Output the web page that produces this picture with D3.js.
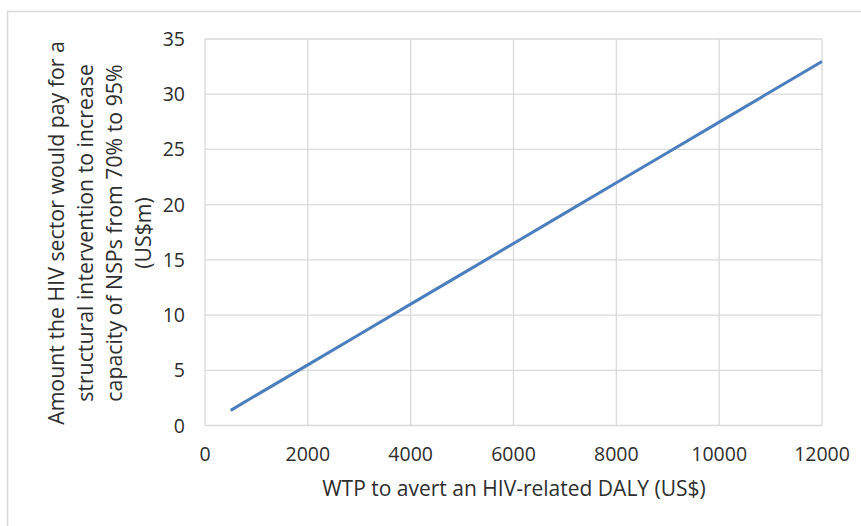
<!DOCTYPE html>
<html><head><meta charset="utf-8">
<script src="https://cdn.jsdelivr.net/npm/d3@7"></script>
<style>body{margin:0;background:#fff;} text{font-family:"Open Sans",sans-serif;fill:#2e2e2e;}</style>
</head><body>
<svg id="c" width="861" height="526"></svg>
<script>
const wtp = [500, 1000, 2000, 3000, 4000, 5000, 6000, 7000, 8000, 9000, 10000, 11000, 12000];
const amount = [1.37, 2.75, 5.49, 8.24, 10.99, 13.73, 16.48, 19.23, 21.98, 24.72, 27.47, 30.22, 32.97];
const xTicks = [0, 2000, 4000, 6000, 8000, 10000, 12000];
const yTicks = [0, 5, 10, 15, 20, 25, 30, 35];
const xTitle = "WTP to avert an HIV-related DALY (US$)";
const yTitle = ["Amount the HIV sector would pay for a", "structural intervention to increase", "capacity of NSPs from 70% to 95%", "(US$m)"];

const svg = d3.select("#c");
const L = 205, R = 822, T = 39, B = 425.5;
const x = d3.scaleLinear().domain([0, 12000]).range([L, R]);
const y = d3.scaleLinear().domain([0, 35]).range([B, T]);

// outer frame
svg.append("path").attr("d", "M7.5,526 V11.5 H861").attr("fill", "none").attr("stroke", "#d9d9d9").attr("stroke-width", 1.5);

// gridlines
svg.append("g").selectAll("line").data(yTicks).join("line")
  .attr("x1", L).attr("x2", R).attr("y1", d => y(d)).attr("y2", d => y(d))
  .attr("stroke", "#d9d9d9").attr("stroke-width", 1.3);
svg.append("g").selectAll("line").data(xTicks).join("line")
  .attr("y1", T).attr("y2", B).attr("x1", d => x(d)).attr("x2", d => x(d))
  .attr("stroke", "#d9d9d9").attr("stroke-width", 1.3);

// tick labels
svg.append("g").selectAll("text").data(yTicks).join("text")
  .attr("x", L - 20).attr("y", d => y(d)).attr("dy", "0.36em")
  .attr("text-anchor", "end").attr("font-size", 19.5).text(d => d);
svg.append("g").selectAll("text").data(xTicks).join("text")
  .attr("x", d => x(d)).attr("y", 461)
  .attr("text-anchor", "middle").attr("font-size", 19.5).text(d => d);

// line
svg.append("path").datum(wtp.map((d, i) => [d, amount[i]]))
  .attr("d", d3.line().x(d => x(d[0])).y(d => y(d[1])))
  .attr("fill", "none").attr("stroke", "#4a7ebf").attr("stroke-width", 3);

// titles
svg.append("text").attr("x", 514).attr("y", 496).attr("text-anchor", "middle")
  .attr("font-size", 21).text(xTitle);
const yc = 233;
svg.append("g").selectAll("text").data(yTitle).join("text")
  .attr("transform", (d, i) => `translate(${63.5 + i * 29},${yc}) rotate(-90)`)
  .attr("text-anchor", "middle").attr("font-size", 21.3).text(d => d);
</script>
</body></html>
